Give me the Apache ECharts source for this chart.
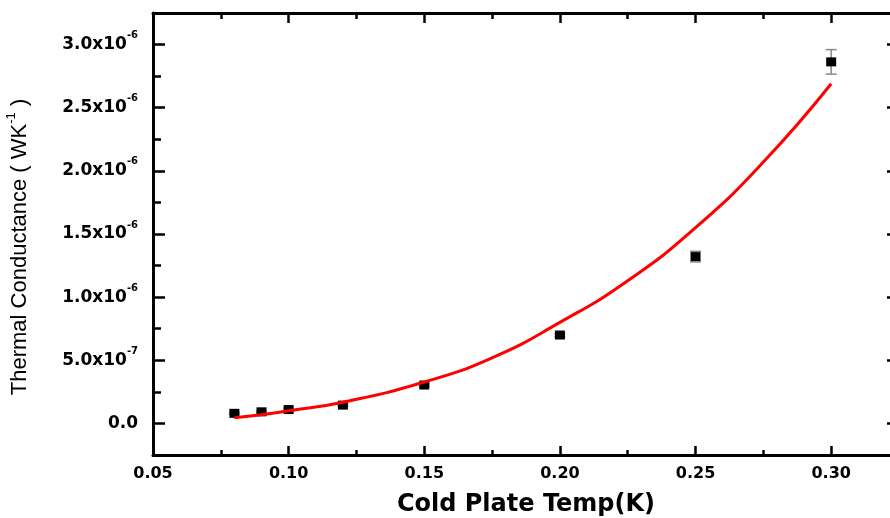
<!DOCTYPE html>
<html>
<head>
<meta charset="utf-8">
<script src="https://cdn.jsdelivr.net/npm/echarts@6/dist/echarts.min.js"></script>
<style>html,body{margin:0;padding:0;background:#fff}#c{width:890px;height:518px}</style>
</head>
<body>
<div id="c"></div>
<script>
// Measured data (Cold plate temperature in K, thermal conductance in W/K)
var tempK = [0.08, 0.09, 0.10, 0.12, 0.15, 0.20, 0.25, 0.30];
var conductance = [0.080e-6, 0.092e-6, 0.110e-6, 0.145e-6, 0.304e-6, 0.700e-6, 1.321e-6, 2.863e-6];
var conductanceErr = [0.008e-6, 0.008e-6, 0.008e-6, 0.008e-6, 0.01e-6, 0.012e-6, 0.042e-6, 0.097e-6];
// Fit curve
var fitTemp = [0.08, 0.09, 0.10, 0.12, 0.15, 0.175, 0.20, 0.225, 0.25, 0.275, 0.30];
var fitG = [0.045e-6, 0.068e-6, 0.100e-6, 0.168e-6, 0.328e-6, 0.520e-6, 0.800e-6, 1.130e-6, 1.550e-6, 2.070e-6, 2.690e-6];
// Axis ticks
var xMajorTicks = [0.05, 0.10, 0.15, 0.20, 0.25, 0.30];
var xMinorTicks = [0.075, 0.125, 0.175, 0.225, 0.275];
var yMajorTicks = [0, 0.5e-6, 1.0e-6, 1.5e-6, 2.0e-6, 2.5e-6, 3.0e-6];
var yMinorTicks = [0.25e-6, 0.75e-6, 1.25e-6, 1.75e-6, 2.25e-6, 2.75e-6];
var xMin = 0.05, xMax = 0.325, yMin = -0.25e-6, yMax = 3.25e-6;

var chart = echarts.init(document.getElementById('c'), null, {renderer: 'canvas'});

function yFmt(v) {
  if (Math.abs(v) < 1e-15) return '0.0';
  var e = Math.floor(Math.log10(Math.abs(v)) + 1e-9);
  var m = v / Math.pow(10, e);
  return m.toFixed(1) + 'x10{sup|' + e + '}';
}

var lineStyle = {color: '#000', width: 3};
function xAx(pos, ticks, len, showLine, showLabel) {
  return {
    type: 'value', position: pos, min: xMin, max: xMax, gridIndex: 0,
    axisLine: {show: showLine, onZero: false, lineStyle: lineStyle},
    axisTick: {show: true, inside: true, length: len, customValues: ticks, lineStyle: {color: '#000', width: 2.5}},
    axisLabel: showLabel ? {
      show: true, customValues: ticks, margin: 11,
      fontFamily: 'DejaVu Sans', fontWeight: 'bold', fontSize: 16, color: '#000',
      formatter: function (v) { return v.toFixed(2); }
    } : {show: false},
    splitLine: {show: false}
  };
}
function yAx(pos, ticks, len, showLine, showLabel) {
  return {
    type: 'value', position: pos, min: yMin, max: yMax, gridIndex: 0,
    axisLine: {show: showLine, onZero: false, lineStyle: lineStyle},
    axisTick: {show: true, inside: true, length: len, customValues: ticks, lineStyle: {color: '#000', width: 2.5}},
    axisLabel: showLabel ? {
      show: true, customValues: ticks, margin: 15,
      fontFamily: 'DejaVu Sans', fontWeight: 'bold', fontSize: 17, color: '#000', lineHeight: 28,
      formatter: yFmt,
      rich: {
        sup: {fontFamily: 'DejaVu Sans', fontWeight: 'bold', fontSize: 10, color: '#000', lineHeight: 11, verticalAlign: 'top'}
      }
    } : {show: false},
    splitLine: {show: false}
  };
}

var xAxes = [xAx('bottom', xMajorTicks, 9, true, true), xAx('bottom', xMinorTicks, 5, false, false),
             xAx('top', xMajorTicks, 10, true, false), xAx('top', xMinorTicks, 6, false, false)];
xAxes[0].name = 'Cold Plate Temp(K)';
xAxes[0].nameLocation = 'middle';
xAxes[0].nameGap = 38;
xAxes[0].nameTextStyle = {fontFamily: 'DejaVu Sans', fontWeight: 'bold', fontSize: 24, color: '#000'};

var yAxes = [yAx('left', yMajorTicks, 12, true, true), yAx('left', yMinorTicks, 8, false, false),
             yAx('right', yMajorTicks, 12, true, false), yAx('right', yMinorTicks, 8, false, false)];
yAxes[0].name = 'Thermal Conductance ( WK{sup|-1} )';
yAxes[0].nameLocation = 'middle';
yAxes[0].nameGap = 118;
yAxes[0].nameTextStyle = {
  fontFamily: 'Liberation Sans', fontSize: 22, color: '#000', lineHeight: 30,
  padding: [0, 26, 0, 0],
  rich: {sup: {fontFamily: 'Liberation Sans', fontSize: 13, color: '#000', lineHeight: 14, verticalAlign: 'top'}}
};

var scatterData = tempK.map(function (t, i) { return [t, conductance[i]]; });
var errData = tempK.map(function (t, i) { return [t, conductance[i] - conductanceErr[i], conductance[i] + conductanceErr[i]]; });
var fitData = fitTemp.map(function (t, i) { return [t, fitG[i]]; });

chart.setOption({
  animation: false,
  backgroundColor: '#fff',
  grid: {left: 153, top: 13, bottom: 63, right: -9, containLabel: false, outerBoundsMode: 'none'},
  xAxis: xAxes,
  yAxis: yAxes,
  series: [
    {
      type: 'custom', xAxisIndex: 0, yAxisIndex: 0, z: 2,
      data: errData,
      renderItem: function (params, api) {
        var x = api.value(0);
        var lo = api.coord([x, api.value(1)]);
        var hi = api.coord([x, api.value(2)]);
        var hw = 5.5;
        var st = {stroke: '#888', lineWidth: 1.5};
        return {type: 'group', children: [
          {type: 'line', shape: {x1: lo[0], y1: lo[1], x2: hi[0], y2: hi[1]}, style: st},
          {type: 'line', shape: {x1: lo[0] - hw, y1: lo[1], x2: lo[0] + hw, y2: lo[1]}, style: st},
          {type: 'line', shape: {x1: hi[0] - hw, y1: hi[1], x2: hi[0] + hw, y2: hi[1]}, style: st}
        ]};
      }
    },
    {
      type: 'scatter', xAxisIndex: 0, yAxisIndex: 0, z: 3,
      symbol: 'rect', symbolSize: [10, 9],
      itemStyle: {color: '#000', opacity: 1},
      data: scatterData
    },
    {
      type: 'line', xAxisIndex: 0, yAxisIndex: 0, z: 4,
      smooth: true, showSymbol: false, symbol: 'none',
      lineStyle: {color: '#ff0000', width: 3},
      data: fitData
    }
  ]
});
</script>
</body>
</html>
